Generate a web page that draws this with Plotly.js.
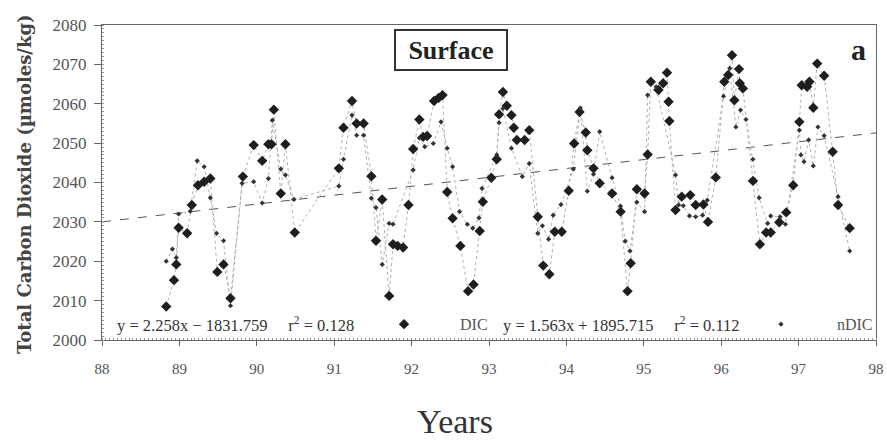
<!DOCTYPE html>
<html>
<head>
<meta charset="utf-8">
<script src="https://cdn.plot.ly/plotly-3.0.1.min.js"></script>
<style>html,body{margin:0;padding:0;background:#fff;}#chart{width:887px;height:440px;}</style>
</head>
<body>
<div id="chart"></div>
<script>
// DIC (large diamonds)
const dicYears = [88.83,88.93,88.96,88.99,89.10,89.16,89.24,89.32,89.40,89.49,89.57,89.66,89.82,89.96,90.07,90.15,90.19,90.22,90.31,90.37,90.49,
91.06,91.12,91.23,91.29,91.38,91.48,91.54,91.62,91.71,91.76,91.82,91.89,91.96,92.02,92.10,92.15,92.20,92.29,92.35,92.40,92.46,92.53,92.63,92.73,92.80,92.88,92.92,
93.03,93.10,93.13,93.18,93.23,93.29,93.32,93.36,93.46,93.52,93.63,93.70,93.78,93.85,93.94,94.03,94.10,94.17,94.25,94.27,94.35,94.43,94.59,94.70,94.79,94.83,94.91,
95.01,95.05,95.09,95.19,95.25,95.30,95.32,95.33,95.41,95.49,95.60,95.67,95.77,95.83,95.93,96.04,96.09,96.14,96.17,96.23,96.24,96.28,96.41,96.50,96.58,96.64,96.75,96.84,96.93,
97.01,97.04,97.11,97.14,97.19,97.24,97.33,97.44,97.51,97.66];
const dicValues = [2008.5,2015.2,2019.2,2028.5,2027.1,2034.3,2039.3,2040.2,2041.0,2017.3,2019.2,2010.6,2041.5,2049.5,2045.5,2049.7,2049.7,2058.5,2037.2,2049.7,2027.3,
2043.6,2053.9,2060.7,2055.0,2055.0,2041.6,2025.2,2035.7,2011.2,2024.3,2023.9,2023.5,2034.3,2048.5,2056.0,2051.6,2051.8,2060.7,2061.5,2062.2,2037.6,2030.9,2023.9,2012.4,2014.1,2027.7,2035.1,
2041.2,2045.9,2057.3,2063.0,2059.5,2057.1,2053.9,2050.8,2050.8,2053.3,2031.3,2018.9,2016.7,2027.5,2027.5,2037.9,2049.9,2057.9,2052.7,2048.2,2043.6,2039.8,2037.2,2032.6,2012.4,2019.5,2038.3,
2037.2,2047.1,2065.6,2063.5,2065.2,2067.9,2060.5,2055.6,2033.0,2036.4,2036.8,2034.3,2034.4,2030.0,2041.3,2065.6,2067.3,2072.3,2060.9,2068.8,2065.2,2063.9,2040.4,2024.3,2027.3,2027.3,2029.9,2032.4,2039.3,
2055.4,2064.7,2064.3,2065.6,2059.0,2070.2,2067.1,2047.8,2034.3,2028.4];

// nDIC (small diamonds)
const ndicYears = [88.83,88.91,88.96,88.99,89.14,89.23,89.32,89.40,89.48,89.57,89.66,89.81,89.96,90.07,90.15,90.20,90.31,90.37,90.48,
91.06,91.12,91.23,91.29,91.38,91.48,91.54,91.62,91.71,91.76,92.02,92.10,92.17,92.28,92.38,92.46,92.53,92.62,92.72,92.79,92.87,92.91,
93.10,93.13,93.18,93.29,93.43,93.52,93.63,93.69,93.77,93.83,93.93,94.09,94.18,94.27,94.35,94.43,94.59,94.70,94.76,94.82,94.91,
95.01,95.05,95.16,95.41,95.45,95.51,95.59,95.67,95.76,95.82,96.03,96.11,96.19,96.25,96.32,96.41,96.49,96.60,96.64,96.76,96.83,
97.01,97.03,97.07,97.13,97.19,97.25,97.33,97.51,97.66];
const ndicValues = [2020.0,2023.1,2020.9,2032.0,2032.7,2045.5,2044.0,2036.1,2027.1,2025.2,2008.7,2039.8,2040.2,2034.8,2041.0,2055.8,2043.4,2041.9,2035.7,
2039.1,2045.9,2057.1,2052.0,2052.0,2036.0,2033.6,2019.2,2029.6,2029.4,2043.2,2051.3,2049.1,2049.9,2055.4,2048.7,2044.0,2032.6,2029.4,2028.4,2031.0,2038.5,
2047.0,2055.2,2058.8,2048.7,2041.5,2044.8,2027.1,2029.0,2025.6,2031.7,2034.4,2043.4,2058.9,2037.8,2042.1,2052.9,2041.2,2034.0,2025.1,2022.6,2035.0,
2032.6,2062.2,2064.3,2041.9,2034.3,2034.1,2031.5,2031.3,2031.7,2035.5,2061.9,2069.0,2054.1,2058.4,2056.0,2045.9,2036.1,2029.6,2031.5,2031.3,2029.4,
2053.3,2047.0,2045.3,2050.8,2044.2,2054.1,2051.9,2036.4,2022.6];

// regression line drawn in the figure
const trendYears = [88, 98];
const trendValues = [2030.0, 2052.6];

const xTickVals = [88,89,90,91,92,93,94,95,96,97,98];
const xTickText = ['88','89','90','91','92','93','94','95','96','97','98'];
const yTickVals = [2000,2010,2020,2030,2040,2050,2060,2070,2080];

const gap = '\u00a0'.repeat(5);
const eqDIC = 'y = 2.258x \u2212 1831.759' + gap + 'r<sup>2</sup> = 0.128';
const eqNDIC = 'y = 1.563x + 1895.715' + gap + 'r<sup>2</sup> = 0.112';
const pad = '\u00a0'.repeat(9);

const serif = 'Liberation Serif, Times New Roman, serif';
const slab = 'DejaVu Serif, serif';

const traces = [
  {x: trendYears, y: trendValues, mode: 'lines', showlegend: false, hoverinfo: 'skip',
   line: {color: '#555', width: 1, dash: 'dash'}},
  {x: dicYears, y: dicValues, mode: 'lines', showlegend: false, hoverinfo: 'skip',
   line: {color: '#b0b0b0', width: 1, dash: 'dot'}},
  {x: ndicYears, y: ndicValues, mode: 'lines', showlegend: false, hoverinfo: 'skip',
   line: {color: '#b0b0b0', width: 1, dash: 'dot'}},
  {x: dicYears, y: dicValues, mode: 'markers', name: pad + 'DIC', legend: 'legend',
   marker: {symbol: 'diamond', size: 8, color: '#1e1e1e'}},
  {x: ndicYears, y: ndicValues, mode: 'markers', name: pad + 'nDIC', legend: 'legend2',
   marker: {symbol: 'diamond', size: 4, color: '#333'}}
];

const legendCommon = {orientation: 'h', xanchor: 'left', y: 0.05, yanchor: 'middle',
  bgcolor: 'rgba(0,0,0,0)', borderwidth: 0, font: {family: serif, size: 16, color: '#555'}, itemwidth: 30};

const layout = {
  width: 887, height: 440,
  margin: {l: 102, r: 10, t: 25, b: 100},
  paper_bgcolor: '#fff', plot_bgcolor: '#fff',
  font: {family: serif, color: '#555', size: 15},
  xaxis: {range: [88, 98], tickmode: 'array', tickvals: xTickVals, ticktext: xTickText,
    showgrid: false, zeroline: false, showline: true, linecolor: '#666', linewidth: 1, mirror: true,
    ticks: 'outside', ticklen: 5, tickcolor: '#666', ticklabelstandoff: 10,
    tickfont: {family: serif, size: 15, color: '#555'},
    minor: {ticks: 'inside', ticklen: 2, dtick: 0.05, tickcolor: '#999', showgrid: false}},
  yaxis: {range: [2000, 2080], tickmode: 'array', tickvals: yTickVals,
    showgrid: false, zeroline: false, showline: true, linecolor: '#666', linewidth: 1, mirror: true,
    ticks: 'outside', ticklen: 7, tickcolor: '#666', ticklabelstandoff: 4,
    tickfont: {family: serif, size: 17, color: '#555'},
    minor: {ticks: 'inside', ticklen: 2, dtick: 1, tickcolor: '#999', showgrid: false}},
  showlegend: true,
  legend: Object.assign({}, legendCommon, {x: 0.3639}),
  legend2: Object.assign({}, legendCommon, {x: 0.8503}),
  annotations: [
    {xref: 'paper', yref: 'paper', x: 0.0168, y: 0.05, xanchor: 'left', yanchor: 'middle', showarrow: false,
     text: eqDIC, font: {family: serif, size: 16.5, color: '#333'}},
    {xref: 'paper', yref: 'paper', x: 0.5157, y: 0.05, xanchor: 'left', yanchor: 'middle', showarrow: false,
     text: eqNDIC, font: {family: serif, size: 16.5, color: '#333'}},
    {xref: 'paper', yref: 'paper', x: 0.4503, y: 0.9206, xanchor: 'center', yanchor: 'middle', showarrow: false,
     text: '<b>Surface</b>', font: {family: serif, size: 26, color: '#222'},
     bordercolor: '#333', borderwidth: 2, borderpad: 1, width: 108, height: 36, bgcolor: '#fff'},
    {xref: 'paper', yref: 'paper', x: 0.9768, y: 0.9238, xanchor: 'center', yanchor: 'middle', showarrow: false,
     text: '<b>a</b>', font: {family: serif, size: 30, color: '#222'}},
    {xref: 'paper', yref: 'paper', x: -0.1, y: 0.494, xanchor: 'center', yanchor: 'middle', showarrow: false,
     textangle: -90, text: '<b>Total Carbon Dioxide (\u00b5moles/kg)</b>', font: {family: slab, size: 18, color: '#444'}},
    {xref: 'paper', yref: 'paper', x: 0.4555, y: -0.26, xanchor: 'center', yanchor: 'middle', showarrow: false,
     text: 'Years', font: {family: serif, size: 34, color: '#333'}}
  ]
};

Plotly.newPlot('chart', traces, layout, {displayModeBar: false, staticPlot: true});
</script>
</body>
</html>
